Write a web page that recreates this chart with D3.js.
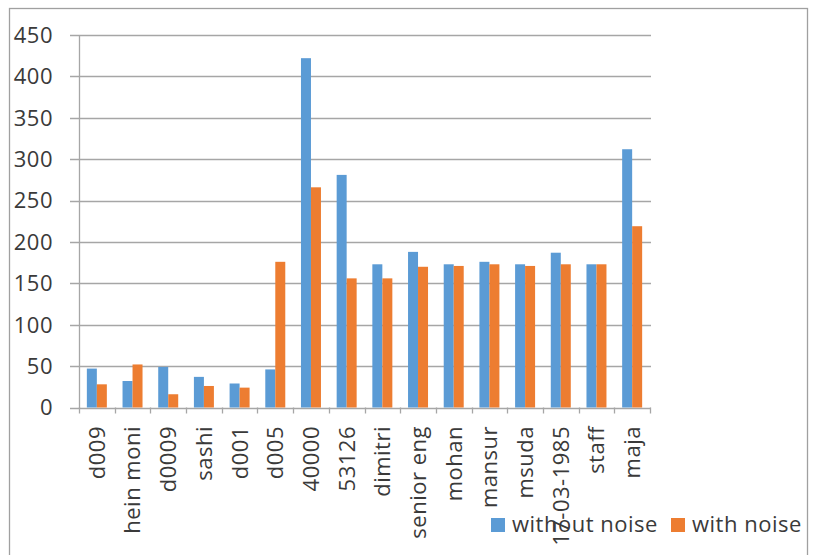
<!DOCTYPE html>
<html>
<head>
<meta charset="utf-8">
<script src="https://cdn.jsdelivr.net/npm/d3@7"></script>
<style>
  html, body { margin: 0; padding: 0; background: #fff; }
  svg { display: block; font-family: "Open Sans", "Liberation Sans", sans-serif; }
  svg text { letter-spacing: 0.5px; }
</style>
</head>
<body>
<svg id="chart" width="819" height="555"></svg>
<script>
// Category names along the x axis
const categories = ["d009", "hein moni", "d0009", "sashi", "d001", "d005", "40000", "53126",
  "dimitri", "senior eng", "mohan", "mansur", "msuda", "17-03-1985", "staff", "maja"];

// Series values
const withoutNoise = [47, 32, 49, 37, 29, 46, 422, 281, 173, 188, 173, 176, 173, 187, 173, 312];
const withNoise    = [28, 52, 16, 26, 24, 176, 266, 156, 156, 170, 171, 173, 171, 173, 173, 219];

const seriesNames = ["without noise", "with noise"];
const seriesColors = ["#5b9bd5", "#ed7d31"];
const yTicks = [0, 50, 100, 150, 200, 250, 300, 350, 400, 450];

const svg = d3.select("#chart");
const textColor = "#3a3a3a";
const gridColor = "#a6a6a6";
const fontSize = 22;

// Outer chart frame
svg.append("rect")
  .attr("x", 9.5).attr("y", 8.5)
  .attr("width", 798).attr("height", 560)
  .attr("fill", "none").attr("stroke", "#a0a0a0").attr("stroke-width", 1.3);

const plot = { left: 79, right: 650, top: 35, bottom: 407.5 };

const y = d3.scaleLinear().domain([0, 450]).range([plot.bottom, plot.top]);
const x = d3.scaleBand().domain(categories).range([plot.left, plot.right]).padding(0);
const xs = d3.scaleBand().domain(seriesNames).range([0, x.bandwidth()])
  .paddingInner(0).paddingOuter(0.785);

// Horizontal gridlines with small ticks on the left
svg.append("g")
  .selectAll("line")
  .data(yTicks)
  .join("line")
  .attr("x1", plot.left - 9).attr("x2", plot.right + 1)
  .attr("y1", d => Math.round(y(d)) + 0.5).attr("y2", d => Math.round(y(d)) + 0.5)
  .attr("stroke", gridColor).attr("stroke-width", 1.3);

// Y tick labels
svg.append("g")
  .selectAll("text")
  .data(yTicks)
  .join("text")
  .attr("x", 53).attr("y", d => y(d))
  .attr("dy", "0.36em")
  .attr("text-anchor", "end")
  .attr("font-size", fontSize)
  .attr("fill", textColor)
  .text(d => d);

// Bars
const data = categories.map((c, i) => ({ cat: c, vals: [withoutNoise[i], withNoise[i]] }));
const groups = svg.append("g")
  .selectAll("g")
  .data(data)
  .join("g")
  .attr("transform", d => `translate(${x(d.cat)},0)`);

groups.selectAll("rect")
  .data(d => d.vals.map((v, k) => ({ name: seriesNames[k], v, k })))
  .join("rect")
  .attr("x", d => xs(d.name))
  .attr("y", d => y(d.v))
  .attr("width", xs.bandwidth())
  .attr("height", d => y(0) - y(d.v))
  .attr("fill", d => seriesColors[d.k]);

// Vertical axis line and x axis with boundary ticks
svg.append("line")
  .attr("x1", plot.left + 0.5).attr("x2", plot.left + 0.5)
  .attr("y1", plot.top).attr("y2", plot.bottom + 1)
  .attr("stroke", gridColor).attr("stroke-width", 1.3);

const boundaries = d3.range(categories.length + 1).map(i => plot.left + i * x.step());
svg.append("g")
  .selectAll("line")
  .data(boundaries)
  .join("line")
  .attr("x1", d => Math.round(d) + 0.5).attr("x2", d => Math.round(d) + 0.5)
  .attr("y1", plot.bottom).attr("y2", plot.bottom + 6)
  .attr("stroke", gridColor).attr("stroke-width", 1.3);

// Rotated category labels
svg.append("g")
  .selectAll("text")
  .data(categories)
  .join("text")
  .attr("transform", d => `translate(${x(d) + x.bandwidth() / 2},426) rotate(-90)`)
  .attr("dy", "0.36em")
  .attr("text-anchor", "end")
  .attr("font-size", fontSize)
  .attr("fill", textColor)
  .text(d => d);

// Legend
const legendItems = [
  { name: seriesNames[0], color: seriesColors[0], x: 491 },
  { name: seriesNames[1], color: seriesColors[1], x: 671 }
];
const leg = svg.append("g")
  .selectAll("g")
  .data(legendItems)
  .join("g")
  .attr("transform", d => `translate(${d.x},0)`);
leg.append("rect")
  .attr("x", 0).attr("y", 518)
  .attr("width", 14).attr("height", 14)
  .attr("fill", d => d.color);
leg.append("text")
  .attr("x", 21).attr("y", 532)
  .attr("font-size", fontSize)
  .attr("fill", textColor)
  .text(d => d.name);
</script>
</body>
</html>
